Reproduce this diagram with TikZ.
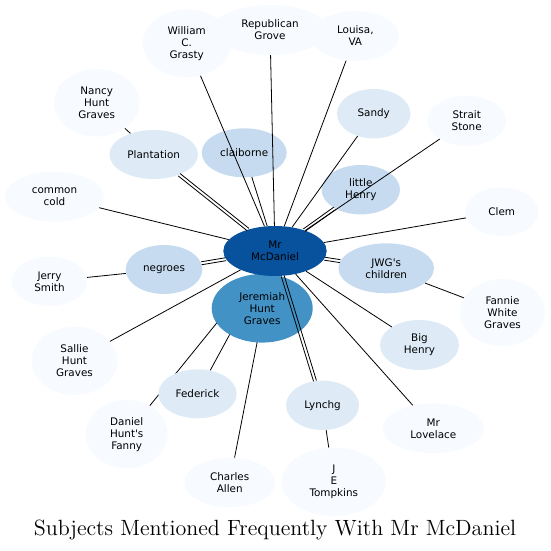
\documentclass[tikz,border=0pt]{standalone}
\usepackage{fontspec}
\newfontfamily\nodefont{DejaVu Sans}[Ligatures=TeXOff]
\newfontfamily\titlefont{lmroman12-regular}[Extension=.otf]
\usetikzlibrary{shapes.geometric}
\definecolor{cA}{RGB}{247,251,255}
\definecolor{cB}{RGB}{222,235,247}
\definecolor{cC}{RGB}{198,219,239}
\definecolor{cF}{RGB}{66,146,198}
\definecolor{cH}{RGB}{8,81,156}
\pgfdeclarelayer{background}
\pgfsetlayers{background,main}
\tikzset{
  ell/.style={ellipse, inner sep=0pt, align=center, draw=none,
    font=\nodefont\fontsize{10.4}{12}\selectfont, text=black},
  edge/.style={draw=black, line width=0.8pt},
}
\begin{document}
\begin{tikzpicture}[x=1pt,y=-1pt]
\useasboundingbox (0,0) rectangle (550,551);
% nodes
\node[ell, fill=cA, minimum width=88pt, minimum height=68pt] (grasty) at (186.7,43.3) {William\\C.\\Grasty};
\node[ell, fill=cA, minimum width=116pt, minimum height=50pt] (repub) at (270,30) {Republican\\Grove};
\node[ell, fill=cA, minimum width=87.5pt, minimum height=50pt] (louisa) at (355.3,36) {Louisa,\\VA};
\node[ell, fill=cA, minimum width=85.5pt, minimum height=67.6pt] (nancy) at (96.7,102.8) {Nancy\\Hunt\\Graves};
\node[ell, fill=cB, minimum width=88.6pt, minimum height=49pt] (plant) at (153.7,154.5) {Plantation};
\node[ell, fill=cC, minimum width=85pt, minimum height=49pt] (claib) at (244.2,152.8) {claiborne};
\node[ell, fill=cB, minimum width=73.4pt, minimum height=49.4pt] (sandy) at (373.7,113.7) {Sandy};
\node[ell, fill=cA, minimum width=78.6pt, minimum height=50pt] (strait) at (466.7,120.7) {Strait\\Stone};
\node[ell, fill=cC, minimum width=78.4pt, minimum height=49.4pt] (lhenry) at (360.8,189.7) {little\\Henry};
\node[ell, fill=cA, minimum width=99pt, minimum height=50pt] (cold) at (54.5,196.7) {common\\cold};
\node[ell, fill=cA, minimum width=73.4pt, minimum height=48.6pt] (clem) at (501.7,211.7) {Clem};
\node[ell, fill=cC, minimum width=76.6pt, minimum height=49pt] (negro) at (164,269.5) {negroes};
\node[ell, fill=cC, minimum width=95.6pt, minimum height=50pt] (jwg) at (386.2,268.3) {JWG's\\children};
\node[ell, fill=cA, minimum width=75.6pt, minimum height=49.4pt] (jerry) at (49.5,281.3) {Jerry\\Smith};
\node[ell, fill=cA, minimum width=85pt, minimum height=67pt] (fannie) at (502.5,312.5) {Fannie\\White\\Graves};
\node[ell, fill=cA, minimum width=85.6pt, minimum height=68.4pt] (sallie) at (74.5,360.8) {Sallie\\Hunt\\Graves};
\node[ell, fill=cB, minimum width=79pt, minimum height=50pt] (bhenry) at (419.5,345) {Big\\Henry};
\node[ell, fill=cB, minimum width=78.4pt, minimum height=49pt] (feder) at (197.5,393.8) {Federick};
\node[ell, fill=cA, minimum width=82pt, minimum height=68.4pt] (fanny) at (126.7,434.2) {Daniel\\Hunt's\\Fanny};
\node[ell, fill=cA, minimum width=90.6pt, minimum height=49.6pt] (charles) at (229.7,482.5) {Charles\\Allen};
\node[ell, fill=cB, minimum width=73pt, minimum height=49.4pt] (lynch) at (322.5,405.3) {Lynchg};
\node[ell, fill=cA, minimum width=101.4pt, minimum height=50pt] (love) at (433.3,428.3) {Mr\\Lovelace};
\node[ell, fill=cA, minimum width=104.4pt, minimum height=68.4pt] (tomp) at (333.8,481.8) {J\\E\\Tompkins};
\node[ell, fill=cF, minimum width=101pt, minimum height=68.6pt] (jer) at (262.2,308.3) {Jeremiah\\Hunt\\Graves};
\node[ell, fill=cH, minimum width=103.4pt, minimum height=50pt] (mc) at (275,251) {Mr\\McDaniel};
% edges hidden under nodes
\begin{pgfonlayer}{background}
\draw[edge] (mc) -- (feder);
\draw[edge] (mc) -- (fanny);
\draw[edge] (mc) -- (charles);
\draw[edge] (mc) -- (jer);
\end{pgfonlayer}
% edges
\draw[edge] (mc) -- (grasty);
\draw[edge] (mc) -- (repub);
\draw[edge] (mc) -- (louisa);
\draw[edge] (mc) -- (sandy);
\draw[edge] (mc) -- (strait);
\draw[edge] (mc) -- (claib);
\draw[edge] (mc) -- (cold);
\draw[edge] (mc) -- (clem);
\draw[edge] (mc) -- (sallie);
\draw[edge] (mc) -- (bhenry);
\draw[edge] (mc) -- (love);
\draw[edge, transform canvas={shift={(-0.93,1.17)}}] (mc) -- (plant);
\draw[edge, transform canvas={shift={(0.93,-1.17)}}] (mc) -- (plant);
\draw[edge, transform canvas={shift={(0.88,1.21)}}] (mc) -- (lhenry);
\draw[edge, transform canvas={shift={(-0.88,-1.21)}}] (mc) -- (lhenry);
\draw[edge, transform canvas={shift={(0.24,1.48)}}] (mc) -- (negro);
\draw[edge, transform canvas={shift={(-0.24,-1.48)}}] (mc) -- (negro);
\draw[edge, transform canvas={shift={(0.23,-1.48)}}] (mc) -- (jwg);
\draw[edge, transform canvas={shift={(-0.23,1.48)}}] (mc) -- (jwg);
\draw[edge, transform canvas={shift={(1.43,-0.44)}}] (mc) -- (lynch);
\draw[edge, transform canvas={shift={(-1.43,0.44)}}] (mc) -- (lynch);
\draw[edge] (plant) -- (nancy);
\draw[edge] (negro) -- (jerry);
\draw[edge] (jwg) -- (fannie);
\draw[edge] (lynch) -- (tomp);
% title
\node[font=\titlefont\fontsize{22.05}{26}\selectfont, inner sep=0pt] (title) at (275,529.5) {Subjects Mentioned Frequently With Mr McDaniel};
\end{tikzpicture}
\end{document}
